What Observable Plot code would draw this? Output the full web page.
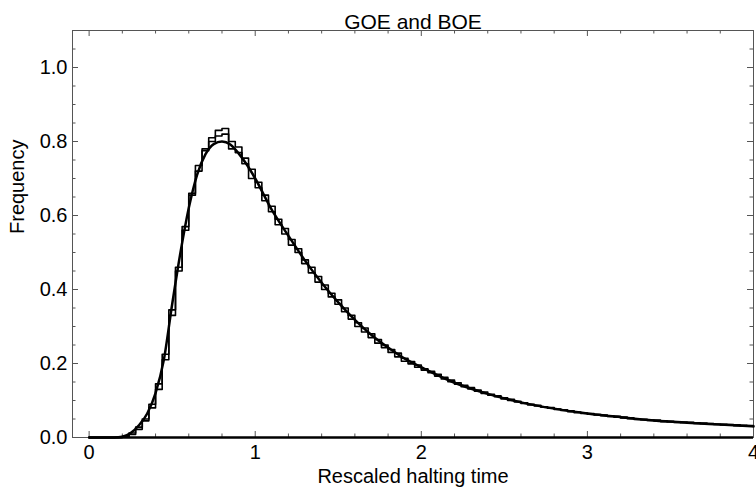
<!DOCTYPE html>
<html>
<head>
<meta charset="utf-8">
<script src="https://cdn.jsdelivr.net/npm/d3@7"></script>
<script src="https://cdn.jsdelivr.net/npm/@observablehq/plot@0.6"></script>
<style>
  html, body { margin: 0; padding: 0; background: white; }
</style>
</head>
<body>
<div id="chart"></div>
<script>
// ---- Data ----
const titleText = "GOE and BOE";
const xLabel = "Rescaled halting time";
const yLabel = "Frequency";

const binWidth = 0.04;
// Histogram 1 (GOE), bins of width 0.04 starting at 0
const histA = [
  0, 0, 0, 0, 0, 0.002, 0.008, 0.022, 0.045, 0.080,
  0.13, 0.21, 0.33, 0.45, 0.56, 0.655, 0.72, 0.775, 0.80, 0.83,
  0.835, 0.80, 0.785, 0.74, 0.725, 0.675, 0.655, 0.61, 0.59, 0.55,
  0.535, 0.50, 0.48, 0.445, 0.435, 0.40, 0.39, 0.36, 0.35, 0.32,
  0.31, 0.285, 0.28, 0.255, 0.25, 0.23, 0.228, 0.206, 0.205, 0.19,
  0.186, 0.175, 0.171, 0.158, 0.155, 0.144, 0.141, 0.131, 0.128, 0.119,
  0.117, 0.110, 0.107, 0.100, 0.098, 0.092, 0.090, 0.085, 0.083, 0.079,
  0.077, 0.073, 0.072, 0.067, 0.066, 0.063, 0.062, 0.059, 0.058, 0.055,
  0.055, 0.051, 0.050, 0.048, 0.047, 0.045, 0.045, 0.042, 0.042, 0.040,
  0.041, 0.038, 0.039, 0.036, 0.036, 0.034, 0.035, 0.032, 0.033, 0.031
];
// Histogram 2 (BOE)
const histB = [
  0, 0, 0, 0, 0, 0.003, 0.012, 0.028, 0.05, 0.09,
  0.145, 0.225, 0.345, 0.46, 0.57, 0.66, 0.735, 0.78, 0.81, 0.815,
  0.82, 0.78, 0.77, 0.755, 0.70, 0.69, 0.64, 0.625, 0.575, 0.565,
  0.52, 0.51, 0.47, 0.46, 0.42, 0.412, 0.38, 0.372, 0.34, 0.33,
  0.30, 0.296, 0.27, 0.265, 0.243, 0.238, 0.218, 0.214, 0.199, 0.196,
  0.182, 0.179, 0.166, 0.163, 0.151, 0.148, 0.137, 0.135, 0.125, 0.123,
  0.114, 0.113, 0.104, 0.103, 0.096, 0.094, 0.088, 0.087, 0.082, 0.081,
  0.076, 0.075, 0.070, 0.069, 0.065, 0.065, 0.061, 0.061, 0.057, 0.057,
  0.053, 0.053, 0.049, 0.049, 0.046, 0.047, 0.043, 0.044, 0.041, 0.042,
  0.039, 0.040, 0.037, 0.038, 0.035, 0.036, 0.033, 0.034, 0.031, 0.032
];
// Smooth density curve
const curveX = [0, 0.15, 0.2, 0.25, 0.3, 0.35, 0.4, 0.45, 0.5, 0.55, 0.6, 0.65, 0.7, 0.75, 0.8, 0.85, 0.9, 0.95, 1.0,
  1.1, 1.2, 1.3, 1.4, 1.5, 1.6, 1.7, 1.8, 1.9, 2.0, 2.2, 2.4, 2.6, 2.8, 3.0, 3.2, 3.4, 3.6, 3.8, 4.0];
const curveY = [0, 0, 0.002, 0.012, 0.033, 0.065, 0.12, 0.21, 0.36, 0.50, 0.62, 0.71, 0.765, 0.793, 0.80, 0.792, 0.768, 0.737, 0.70,
  0.615, 0.545, 0.478, 0.418, 0.365, 0.318, 0.277, 0.243, 0.213, 0.19, 0.148, 0.118, 0.095, 0.078, 0.065, 0.055, 0.046, 0.040, 0.035, 0.030];

const xMajor = [0, 1, 2, 3, 4];
const xMinor = [0.2, 0.4, 0.6, 0.8, 1.2, 1.4, 1.6, 1.8, 2.2, 2.4, 2.6, 2.8, 3.2, 3.4, 3.6, 3.8];
const yMajor = [0, 0.2, 0.4, 0.6, 0.8, 1.0];
const yMinor = [0.05, 0.1, 0.15, 0.25, 0.3, 0.35, 0.45, 0.5, 0.55, 0.65, 0.7, 0.75, 0.85, 0.9, 0.95, 1.05];

// ---- Build tables ----
function stepData(vals) {
  const pts = vals.map((v, i) => ({x: i * binWidth, y: v}));
  pts.push({x: vals.length * binWidth, y: vals[vals.length - 1]});
  return pts;
}
const stepA = stepData(histA);
const stepB = stepData(histB);
const curve = curveX.map((x, i) => ({x, y: curveY[i]}));

const W = 756, H = 497;
const mL = 72, mR = 3, mT = 30, mB = 60;
const fw = W - mL - mR, fh = H - mT - mB;
const frameColor = "#555";
const majorLen = 6, minorLen = 3.5;

const chart = Plot.plot({
  width: W, height: H,
  marginLeft: mL, marginRight: mR, marginTop: mT, marginBottom: mB,
  x: {domain: [-0.1, 4]},
  y: {domain: [0, 1.1]},
  style: {fontFamily: "'Liberation Sans', Arial, sans-serif", fontSize: "20px", background: "white", color: "black"},
  marks: [
    Plot.frame({stroke: frameColor, strokeWidth: 1}),
    // bottom ticks (inward)
    Plot.ruleX(xMajor, {stroke: frameColor, insetTop: fh - majorLen}),
    Plot.ruleX(xMinor, {stroke: frameColor, insetTop: fh - minorLen}),
    // top ticks
    Plot.ruleX(xMajor, {stroke: frameColor, insetBottom: fh - majorLen}),
    Plot.ruleX(xMinor, {stroke: frameColor, insetBottom: fh - minorLen}),
    // left ticks
    Plot.ruleY(yMajor, {stroke: frameColor, insetRight: fw - majorLen}),
    Plot.ruleY(yMinor, {stroke: frameColor, insetRight: fw - minorLen}),
    // right ticks
    Plot.ruleY(yMajor, {stroke: frameColor, insetLeft: fw - majorLen}),
    Plot.ruleY(yMinor, {stroke: frameColor, insetLeft: fw - minorLen}),
    // tick labels
    Plot.axisX({ticks: xMajor, tickSize: 0, tickPadding: 7, tickFormat: d => String(d), label: null, fontSize: 20, fill: "black"}),
    Plot.axisY({ticks: yMajor, tickSize: 0, tickPadding: 5, tickFormat: d3.format(".1f"), label: null, fontSize: 20, fill: "black"}),
    // baseline
    Plot.ruleY([0], {x1: curveX[0], x2: curveX[curveX.length - 1], stroke: "black", strokeWidth: 2.5}),
    // histograms
    Plot.line(stepA, {x: "x", y: "y", curve: "step-after", stroke: "black", strokeWidth: 1.6}),
    Plot.line(stepB, {x: "x", y: "y", curve: "step-after", stroke: "black", strokeWidth: 1.6}),
    // smooth curve
    Plot.line(curve, {x: "x", y: "y", curve: "monotone-x", stroke: "black", strokeWidth: 2.5}),
    // titles
    Plot.text([titleText], {frameAnchor: "top", dy: -16, fontSize: 21, fill: "black"}),
    Plot.text([xLabel], {frameAnchor: "bottom", dy: 45, fontSize: 20, fill: "black"}),
    Plot.text([yLabel], {frameAnchor: "left", dx: -55, rotate: -90, fontSize: 20, fill: "black"})
  ]
});
document.getElementById("chart").appendChild(chart);
</script>
</body>
</html>
